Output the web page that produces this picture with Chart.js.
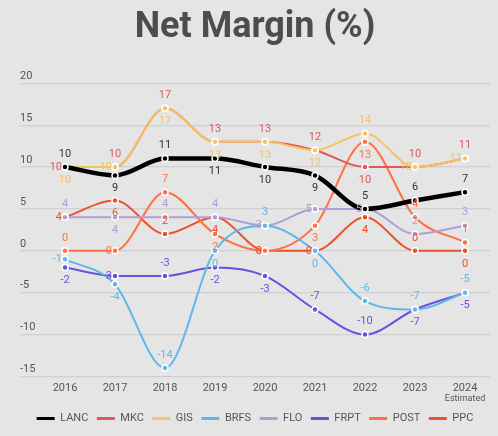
<!DOCTYPE html>
<html>
<head>
<meta charset="utf-8">
<script src="https://cdn.jsdelivr.net/npm/chart.js@4/dist/chart.umd.min.js"></script>
<style>
    body { margin: 0; background: #e5e5e5; }
    #wrap { width: 498px; height: 436px; position: relative; }
</style>
</head>
<body>
<div id="wrap"><canvas id="marginChart"></canvas></div>
<script>
const years = [2016, 2017, 2018, 2019, 2020, 2021, 2022, 2023, 2024];
const seriesNames = ['LANC', 'MKC', 'GIS', 'BRFS', 'FLO', 'FRPT', 'POST', 'PPC'];
const lanc = [10, 9, 11, 11, 10, 9, 5, 6, 7];
const mkc = [10, 10, 17, 13, 13, 12, 10, 10, 11];
const gis = [10, 10, 17, 13, 13, 12, 14, 10, 11];
const brfs = [-1, -4, -14, 0, 3, 0, -6, -7, -5];
const flo = [4, 4, 4, 4, 3, 5, 5, 2, 3];
const frpt = [-2, -3, -3, -2, -3, -7, -10, -7, -5];
const post = [0, 0, 7, 2, 0, 3, 13, 4, 1];
const ppc = [4, 6, 2, 4, 0, 0, 4, 0, 0];
const yTicks = [-15, -10, -5, 0, 5, 10, 15, 20];

document.addEventListener('DOMContentLoaded', () => {
    const ctx = document.getElementById('marginChart').getContext('2d');
    const values = [lanc, mkc, gis, brfs, flo, frpt, post, ppc];
    const colors = ['#000000', '#e0585d', '#f2c462', '#5db8e8', '#b39dd6', '#6b50e0', '#ff7043', '#e8532a'];
    const labelColors = ['#333333', '#e0585d', '#f2c462', '#5db8e8', '#b39dd6', '#6b50e0', '#ff7043', '#e8532a'];
    // draw order, lower sits on top (GIS over MKC)
    const drawOrder = [0, 2, 1, 3, 4, 5, 6, 7];
    // where each value label sits: t = above, b = below, l = left of the point
    const labelSide = [
        'tbtbbbttt',
        'ltttttbtt',
        'blbbbbtll',
        'lbtbtbttt',
        'tbttllltt',
        'bltbbttbb',
        'tltblbbtt',
        'lbtbllbtb'
    ];
    const textGray = '#555555';
    const font = 'Roboto';

    const datasets = values.map((vals, i) => ({
        label: seriesNames[i],
        data: vals.map((v, j) => ({ x: years[j], y: v })),
        order: drawOrder[i],
        borderColor: colors[i],
        backgroundColor: colors[i],
        borderWidth: i === 0 ? 4.5 : 2,
        cubicInterpolationMode: 'monotone',
        pointRadius: 3,
        pointBorderWidth: 1.5,
        pointBorderColor: '#ffffff',
        pointBackgroundColor: colors[i]
    }));

    const valueLabels = {
        id: 'valueLabels',
        afterDatasetsDraw(chart) {
            const c = chart.ctx;
            c.save();
            c.font = '11px ' + font;
            c.textBaseline = 'middle';
            chart.data.datasets.forEach((ds, i) => {
                const meta = chart.getDatasetMeta(i);
                meta.data.forEach((pt, j) => {
                    const side = labelSide[i][j];
                    let x = pt.x, y = pt.y;
                    c.textAlign = 'center';
                    if (side === 't') y -= 13;
                    else if (side === 'b') y += 13;
                    else { x -= 3; c.textAlign = 'right'; }
                    c.fillStyle = labelColors[i];
                    c.fillText(String(values[i][j]), x, y);
                });
            });
            c.restore();
        }
    };

    const estimatedNote = {
        id: 'estimatedNote',
        afterDraw(chart) {
            const c = chart.ctx;
            const xs = chart.scales.x;
            c.save();
            c.font = '9px ' + font;
            c.fillStyle = textGray;
            c.textAlign = 'center';
            c.textBaseline = 'middle';
            c.fillText('Estimated', xs.getPixelForValue(years[years.length - 1]), chart.chartArea.bottom + 22);
            c.restore();
        }
    };

    new Chart(ctx, {
        type: 'line',
        data: { datasets: datasets },
        plugins: [valueLabels, estimatedNote],
        options: {
            responsive: true,
            maintainAspectRatio: false,
            animation: false,
            layout: { padding: { left: 20, right: 8, top: 6, bottom: 2 } },
            scales: {
                x: {
                    type: 'linear',
                    min: 2015.1,
                    max: 2024.5,
                    grid: { display: false, drawTicks: false },
                    border: { display: false },
                    afterFit: (scale) => { scale.height = 28; },
                    ticks: {
                        stepSize: 1,
                        includeBounds: false,
                        padding: 5,
                        color: textGray,
                        font: { family: font, size: 11 },
                        callback: (v) => Number.isInteger(v) ? String(v) : null
                    }
                },
                y: {
                    min: yTicks[0],
                    max: yTicks[yTicks.length - 1],
                    afterBuildTicks: (scale) => { scale.ticks = yTicks.map(v => ({ value: v })); },
                    grid: { color: '#d0d0d0', lineWidth: 1.2, drawTicks: false },
                    border: { display: false },
                    ticks: {
                        mirror: true,
                        padding: 0,
                        labelOffset: -7,
                        color: textGray,
                        font: { family: font, size: 11 }
                    }
                }
            },
            plugins: {
                title: {
                    display: true,
                    text: 'Net Margin (%)',
                    color: '#4d4d4d',
                    font: { family: font, size: 36, weight: 'bold' },
                    padding: { top: 0, bottom: 34 }
                },
                legend: {
                    position: 'bottom',
                    labels: {
                        boxWidth: 18,
                        boxHeight: 3,
                        padding: 8.5,
                        color: textGray,
                        font: { family: font, size: 11 },
                        generateLabels: (chart) => chart.data.datasets.map((ds, i) => ({
                            text: ds.label,
                            fillStyle: colors[i],
                            strokeStyle: colors[i],
                            lineWidth: 0,
                            fontColor: textGray,
                            datasetIndex: i
                        }))
                    }
                },
                tooltip: { enabled: false }
            }
        }
    });
});
</script>
</body>
</html>
